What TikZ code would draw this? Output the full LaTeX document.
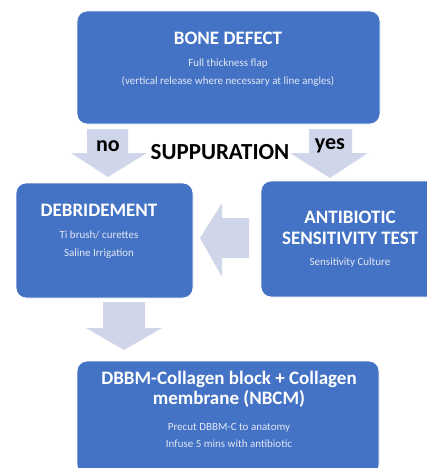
\documentclass[tikz,border=0pt]{standalone}
\usepackage{fontspec}
\setmainfont{Carlito}
\definecolor{boxblue}{HTML}{4472C4}
\definecolor{arrowgrey}{HTML}{D0D6EA}
\definecolor{subwhite}{HTML}{E2E8F5}
\tikzset{
  box/.style={draw=white, line width=0.8pt, fill=boxblue, rounded corners=10pt, inner sep=0pt},
  boxtitle/.style={text=white, font=\bfseries\fontsize{19}{20.5}\selectfont, align=center, inner sep=0pt},
  boxsub/.style={text=subwhite, font=\fontsize{11}{17.5}\selectfont, align=center, inner sep=0pt},
  blockarrow/.style={fill=arrowgrey, draw=none},
  branch/.style={font=\bfseries\fontsize{22}{24}\selectfont, inner sep=0pt}
}
\begin{document}
\begin{tikzpicture}[x=1pt, y=-1pt]
  \useasboundingbox (0,0) rectangle (427,468);
  \clip (0,0) rectangle (427,468);

  % Boxes
  \node[box, minimum width=303pt, minimum height=113pt] (defect) at (228.5,67.5) {};
  \node[box, minimum width=177pt, minimum height=115pt] (debride) at (104.5,240.5) {};
  \node[box, minimum width=178pt, minimum height=116pt] (sensitivity) at (350,239) {};
  \node[box, minimum width=302pt, minimum height=114pt] (graft) at (228,418) {};

  % Block arrows
  \draw[blockarrow] (87,129) -- (128,129) -- (128,153) -- (147,153) -- (108,177) -- (71,153) -- (87,153) -- cycle;
  \draw[blockarrow] (309,129) -- (352,129) -- (352,153) -- (368,153) -- (330,178) -- (290,153) -- (309,153) -- cycle;
  \draw[blockarrow] (249,218) -- (222,218) -- (222,203) -- (200,238) -- (222,277) -- (222,258) -- (249,258) -- cycle;
  \draw[blockarrow] (103,302) -- (145,302) -- (145,328) -- (162,328) -- (124,350) -- (86,328) -- (103,328) -- cycle;

  % Texts of the boxes
  \node[boxtitle] (defecttitle) at (228,38) {BONE DEFECT};
  \node[boxsub] (defectsub) at (228,72.5) {Full thickness flap\\(vertical release where necessary at line angles)};

  \node[boxtitle] (debridetitle) at (99,210) {DEBRIDEMENT};
  \node[boxsub] (debridesub) at (99,244.5) {Ti brush/ curettes\\Saline Irrigation};

  \node[boxtitle] (sensitivitytitle) at (350,228) {ANTIBIOTIC\\SENSITIVITY TEST};
  \node[boxsub] (sensitivitysub) at (350,263) {Sensitivity Culture};

  \node[boxtitle] (grafttitle) at (229,389.5) {DBBM-Collagen block + Collagen\\membrane (NBCM)};
  \node[boxsub] (graftsub) at (229,435.5) {Precut DBBM-C to anatomy\\Infuse 5 mins with antibiotic};

  % Branch labels
  \node[branch] (no) at (108,146) {no};
  \node[branch] (yes) at (330,146) {yes};
  \node[font=\bfseries\fontsize{23}{25}\selectfont, inner sep=0pt] (suppuration) at (220,152) {SUPPURATION};
\end{tikzpicture}
\end{document}
